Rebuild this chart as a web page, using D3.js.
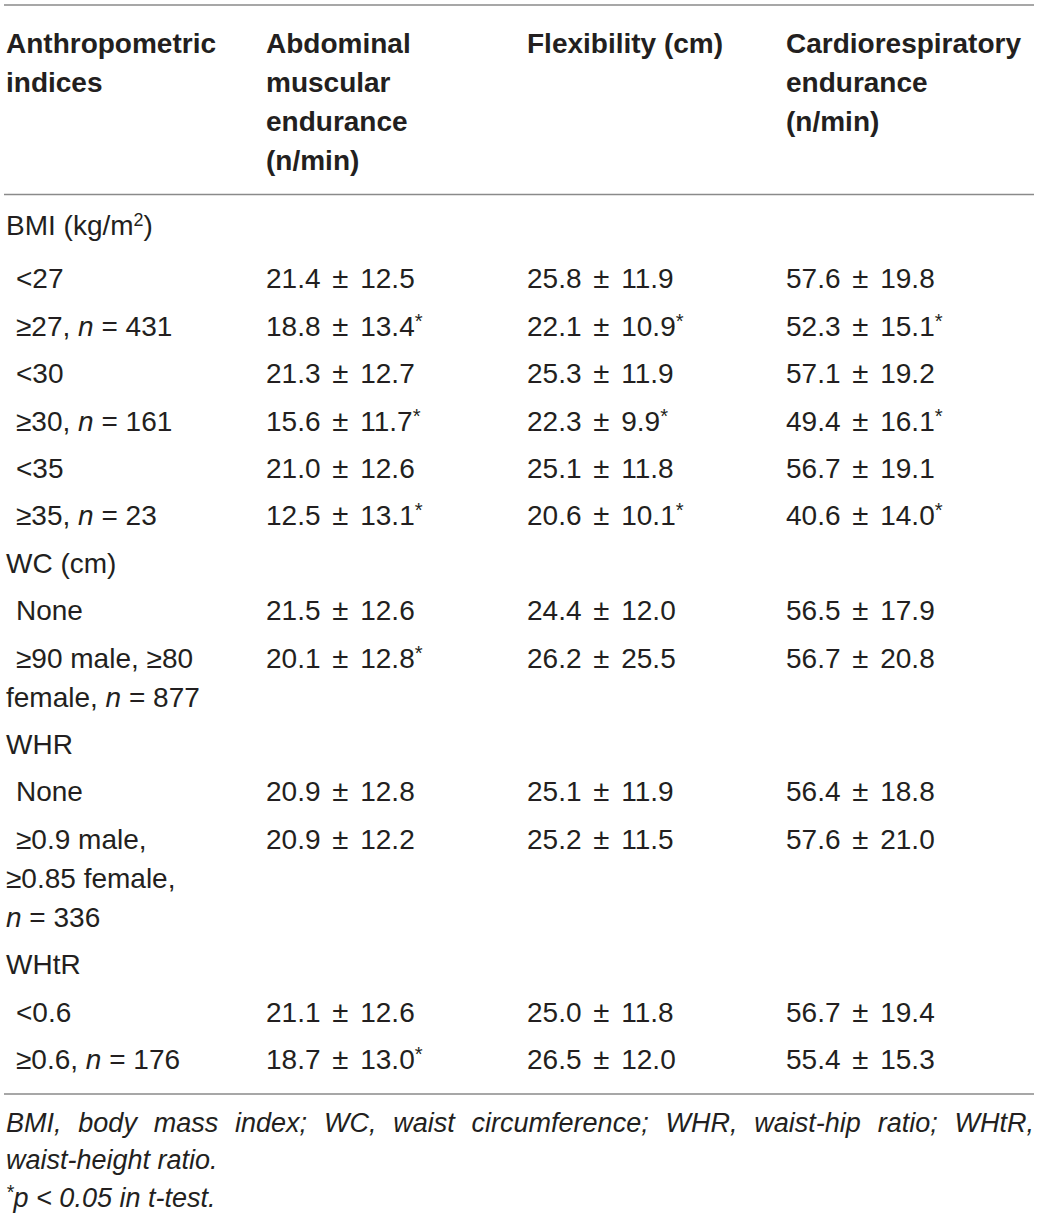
<!DOCTYPE html>
<html>
<head>
<meta charset="utf-8">
<script src="https://cdn.jsdelivr.net/npm/d3@7"></script>
<style>
  body { margin: 0; background: #fff; }
  svg text { font-family: "Liberation Sans", Arial, Helvetica, sans-serif; fill: #231f20; }
</style>
</head>
<body>
<svg id="table"></svg>
<script>
const width = 1040;
const height = 1218;

// column headers, one array of lines per column
const headerLines = [
  ["Anthropometric", "indices"],
  ["Abdominal", "muscular", "endurance", "(n/min)"],
  ["Flexibility (cm)"],
  ["Cardiorespiratory", "endurance", "(n/min)"],
];

// first column, {i:..} italic and {sup:..} superscript
const rowLabels = [
  ["BMI (kg/m{sup:2})"],
  ["<27"],
  ["≥27, {i:n} = 431"],
  ["<30"],
  ["≥30, {i:n} = 161"],
  ["<35"],
  ["≥35, {i:n} = 23"],
  ["WC (cm)"],
  ["None"],
  ["≥90 male, ≥80", "female, {i:n} = 877"],
  ["WHR"],
  ["None"],
  ["≥0.9 male,", "≥0.85 female,", "{i:n} = 336"],
  ["WHtR"],
  ["<0.6"],
  ["≥0.6, {i:n} = 176"],
];
const isGroup = [true, false, false, false, false, false, false, true, false, false, true, false, false, true, false, false];

const abdMean = [null, 21.4, 18.8, 21.3, 15.6, 21.0, 12.5, null, 21.5, 20.1, null, 20.9, 20.9, null, 21.1, 18.7];
const abdSd = [null, 12.5, 13.4, 12.7, 11.7, 12.6, 13.1, null, 12.6, 12.8, null, 12.8, 12.2, null, 12.6, 13.0];
const abdSig = [0, 0, 1, 0, 1, 0, 1, 0, 0, 1, 0, 0, 0, 0, 0, 1];

const flexMean = [null, 25.8, 22.1, 25.3, 22.3, 25.1, 20.6, null, 24.4, 26.2, null, 25.1, 25.2, null, 25.0, 26.5];
const flexSd = [null, 11.9, 10.9, 11.9, 9.9, 11.8, 10.1, null, 12.0, 25.5, null, 11.9, 11.5, null, 11.8, 12.0];
const flexSig = [0, 0, 1, 0, 1, 0, 1, 0, 0, 0, 0, 0, 0, 0, 0, 0];

const cardioMean = [null, 57.6, 52.3, 57.1, 49.4, 56.7, 40.6, null, 56.5, 56.7, null, 56.4, 57.6, null, 56.7, 55.4];
const cardioSd = [null, 19.8, 15.1, 19.2, 16.1, 19.1, 14.0, null, 17.9, 20.8, null, 18.8, 21.0, null, 19.4, 15.3];
const cardioSig = [0, 0, 1, 0, 1, 0, 1, 0, 0, 0, 0, 0, 0, 0, 0, 0];

const footLine1 = "BMI, body mass index; WC, waist circumference; WHR, waist-hip ratio; WHtR,";
const footLine2 = "waist-height ratio.";
const footLine3 = "{sup:*}p < 0.05 in t-test.";

// ---------------- layout ----------------
const fontSize = 28;
const lineH = 39;
const rowGap = 8.4;

const svg = d3.select("#table").attr("width", width).attr("height", height);

const x = d3.scaleOrdinal().domain([0, 1, 2, 3]).range([6, 266, 527, 786]);

// cumulative offsets for rows of varying height
let acc = 0;
const rowOffset = rowLabels.map((lines, i) => {
  const v = acc;
  acc += lines.length * lineH + rowGap + (i === 0 ? 6 : 0);
  return v;
});
const y = d3.scaleLinear().domain([0, acc]).range([235, 235 + acc]);

// write a string with {i:..}/{sup:..}/{pm} markup into a text element
function richText(textSel, str, size) {
  const parts = str.split(/(\{(?:i|sup):[^}]*\}|\{pm\})/).filter((s) => s.length);
  let raised = 0;
  let padNext = false;
  parts.forEach((p) => {
    const m = p.match(/^\{(i|sup):([^}]*)\}$/);
    const span = textSel.append("tspan");
    let dx = padNext ? 4 : 0;
    padNext = false;
    if (raised) {
      span.attr("dy", raised);
      raised = 0;
    }
    if (p === "{pm}") {
      span.text("±").attr("font-size", size * 1.05);
      dx = 4;
      padNext = true;
    } else if (!m) {
      span.text(p);
    } else if (m[1] === "i") {
      span.attr("font-style", "italic").text(m[2]);
    } else {
      const lift = m[2] === "*" ? 8 : 9;
      span.attr("dy", -lift).attr("font-size", size * (m[2] === "*" ? 0.72 : 0.64)).text(m[2]);
      raised = lift;
    }
    if (dx) span.attr("dx", dx);
  });
}

const rules = svg.append("g").attr("stroke", "#8a8a8a").attr("stroke-width", 1.6);
[5, 194.5, 1094].forEach((ry) => {
  rules.append("line").attr("x1", 4).attr("x2", 1034).attr("y1", ry).attr("y2", ry);
});

// header
const header = svg.append("g").attr("font-weight", "bold").attr("font-size", fontSize);
headerLines.forEach((lines, c) => {
  lines.forEach((ln, k) => {
    header.append("text").attr("x", x(c)).attr("y", 53 + k * lineH).text(ln);
  });
});

// body
const body = svg.append("g").attr("font-size", fontSize);
rowLabels.forEach((lines, i) => {
  lines.forEach((ln, k) => {
    const t = body
      .append("text")
      .attr("x", x(0) + (!isGroup[i] && k === 0 ? 10 : 0))
      .attr("y", y(rowOffset[i]) + k * lineH);
    richText(t, ln, fontSize);
  });
});

const fmt = d3.format(".1f");
const series = [
  [abdMean, abdSd, abdSig],
  [flexMean, flexSd, flexSig],
  [cardioMean, cardioSd, cardioSig],
];
series.forEach(([mean, sd, sig], s) => {
  mean.forEach((m, i) => {
    if (m === null) return;
    const t = body.append("text").attr("x", x(s + 1)).attr("y", y(rowOffset[i]));
    richText(t, `${fmt(m)} {pm} ${fmt(sd[i])}` + (sig[i] ? "{sup:*}" : ""), fontSize);
  });
});

// footnotes
const foot = svg.append("g").attr("font-size", 27).attr("font-style", "italic");

// first line is justified to the full width
const words = footLine1.split(" ");
const t1 = foot.append("text").attr("y", 1132);
const spans = words.map((w) => t1.append("tspan").text(w));
const widths = spans.map((sp) => sp.node().getComputedTextLength());
const gap = (1034 - 6 - d3.sum(widths)) / (words.length - 1);
let cx = 6;
spans.forEach((sp, k) => {
  sp.attr("x", cx);
  cx += widths[k] + gap;
});

foot.append("text").attr("x", 6).attr("y", 1169).text(footLine2);
richText(foot.append("text").attr("x", 6).attr("y", 1207), footLine3, 27);
</script>
</body>
</html>
